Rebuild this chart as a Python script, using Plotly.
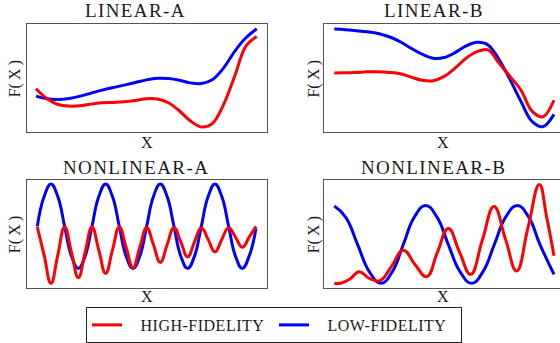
import plotly.graph_objects as go

# ---------------- data ----------------
# LINEAR-A / LINEAR-B : 21 equally spaced samples along x
lin_x = list(range(21))
lin_a_high = [0.400, 0.308, 0.255, 0.240, 0.243, 0.258, 0.271, 0.274, 0.280, 0.292, 0.308,
              0.305, 0.271, 0.194, 0.102, 0.046, 0.080, 0.255, 0.517, 0.794, 0.886]
lin_a_low = [0.332, 0.308, 0.302, 0.311, 0.332, 0.360, 0.388, 0.412, 0.434, 0.458, 0.483,
             0.498, 0.495, 0.480, 0.455, 0.449, 0.486, 0.594, 0.748, 0.871, 0.957]
lin_b_high = [0.546, 0.549, 0.552, 0.558, 0.558, 0.552, 0.540, 0.509, 0.479, 0.475, 0.515,
              0.592, 0.684, 0.745, 0.761, 0.638, 0.515, 0.387, 0.193, 0.141, 0.294]
lin_b_low = [0.954, 0.948, 0.939, 0.929, 0.914, 0.883, 0.837, 0.776, 0.721, 0.684, 0.690,
             0.736, 0.798, 0.831, 0.807, 0.672, 0.485, 0.282, 0.098, 0.049, 0.163]

# NONLINEAR-A : 33 equally spaced samples along x
nla_x = list(range(33))
nla_high = [0.563, 0.302, 0.040, 0.302, 0.563, 0.328, 0.092, 0.328, 0.563, 0.348, 0.132,
            0.348, 0.563, 0.374, 0.185, 0.374, 0.557, 0.398, 0.234, 0.398, 0.557, 0.425,
            0.286, 0.425, 0.557, 0.448, 0.332, 0.448, 0.557, 0.469, 0.375, 0.469, 0.569]
nla_low = [0.569, 0.846, 0.963, 0.846, 0.569, 0.292, 0.178, 0.292, 0.569, 0.846, 0.963,
           0.846, 0.569, 0.292, 0.178, 0.292, 0.569, 0.846, 0.963, 0.846, 0.569, 0.292,
           0.178, 0.292, 0.569, 0.846, 0.963, 0.846, 0.569, 0.292, 0.178, 0.292, 0.550]

# NONLINEAR-B : irregular samples, x on a 0-100 scale
nlb_high_x = [0, 3.34, 7.13, 11.38, 15.93, 20.79, 26.10, 31.41, 36.72, 42.03, 46.89,
              51.90, 56.90, 62.06, 67.37, 72.69, 77.85, 83.00, 88.16, 93.32, 96.66, 100]
nlb_high = [0.040, 0.043, 0.080, 0.148, 0.086, 0.065, 0.200, 0.348, 0.215, 0.102, 0.326,
            0.548, 0.335, 0.123, 0.440, 0.754, 0.455, 0.154, 0.557, 0.957, 0.655, 0.295]
nlb_low_x = [0, 5.16, 10.62, 15.93, 21.24, 26.40, 31.41, 36.42, 41.58, 46.74, 51.90,
             57.21, 62.52, 67.68, 72.84, 78.00, 83.31, 88.47, 93.63, 100]
nlb_low = [0.757, 0.655, 0.400, 0.148, 0.040, 0.148, 0.400, 0.655, 0.763, 0.655, 0.400,
           0.148, 0.040, 0.148, 0.400, 0.655, 0.763, 0.655, 0.400, 0.123]

titles = ["LINEAR-A", "LINEAR-B", "NONLINEAR-A", "NONLINEAR-B"]
series_names = ["HIGH-FIDELITY", "LOW-FIDELITY"]
colors = ["#ff0000", "#0000ff"]

panels = [
    (lin_x, lin_a_high, lin_x, lin_a_low),
    (lin_x, lin_b_high, lin_x, lin_b_low),
    (nla_x, nla_high, nla_x, nla_low),
    (nlb_high_x, nlb_high, nlb_low_x, nlb_low),
]
smooth = [1.0, 1.0, 1.3, 1.3]

# ---------------- layout geometry ----------------
W, H = 560, 343
FONT = "Liberation Serif"
TXT = "#1a1a1a"
FRAME = "#555555"

x_domains = [[26.7 / W, 266.7 / W], [324.3 / W, 1.0], [26.7 / W, 266.7 / W], [324.3 / W, 1.0]]
y_domains = [[1 - 132.7 / H, 1 - 24.3 / H], [1 - 132.7 / H, 1 - 24.3 / H],
             [1 - 289.3 / H, 1 - 181 / H], [1 - 289.3 / H, 1 - 181 / H]]
x_ranges = [[-0.84, 20.9], [-0.91, 20.55], [-1.55, 33.57], [-4.55, 102.73]]


def legend_name(s):
    return '<span style="letter-spacing:0.5px">\u00a0\u00a0\u00a0' + s + '</span>'


fig = go.Figure()
for k, (hx, hy, lx, ly) in enumerate(panels):
    ax = "" if k == 0 else str(k + 1)
    fig.add_trace(go.Scatter(x=lx, y=ly, mode="lines", name=legend_name(series_names[1]),
                             line=dict(color=colors[1], width=3, shape="spline", smoothing=smooth[k]),
                             xaxis="x" + ax, yaxis="y" + ax,
                             legendgroup="lf", showlegend=(k == 0), legendrank=2))
    fig.add_trace(go.Scatter(x=hx, y=hy, mode="lines", name=legend_name(series_names[0]),
                             line=dict(color=colors[0], width=3, shape="spline", smoothing=smooth[k]),
                             xaxis="x" + ax, yaxis="y" + ax,
                             legendgroup="hf", showlegend=(k == 0), legendrank=1))

layout = dict(
    width=W, height=H, margin=dict(l=0, r=0, t=0, b=0),
    paper_bgcolor="white", plot_bgcolor="white",
    font=dict(family=FONT, color=TXT),
    showlegend=True,
    legend=dict(orientation="h", x=86 / W, y=1 - 309 / H, xanchor="left", yanchor="top",
                bordercolor="#222222", borderwidth=1, bgcolor="white",
                font=dict(family=FONT, size=16, color=TXT),
                entrywidth=142, entrywidthmode="pixels", traceorder="normal"),
)
for k in range(4):
    ax = "" if k == 0 else str(k + 1)
    right = k in (1, 3)
    layout["xaxis" + ax] = dict(domain=x_domains[k], range=x_ranges[k], anchor="y" + ax,
                                showline=True, linecolor=FRAME, linewidth=1.2, mirror=True,
                                showticklabels=False, ticks="", showgrid=False, zeroline=False,
                                fixedrange=True)
    layout["yaxis" + ax] = dict(domain=y_domains[k], range=[0, 1], anchor="x" + ax,
                                showline=True, linecolor=FRAME, linewidth=1.2,
                                mirror=(not right),
                                showticklabels=False, ticks="", showgrid=False, zeroline=False,
                                fixedrange=True)
fig.update_layout(**layout)

ann = []
title_pos = [(135.8, 10.6), (433.7, 10.6), (136.3, 168), (433.3, 168)]
xlab_pos = [(146.7, 143.5), (443.3, 143.5), (146.7, 297.8), (443.3, 297.8)]
ylab_pos = [(15, 78.8), (314.2, 78.8), (15, 235.5), (314.2, 235.5)]
for k in range(4):
    tx, ty = title_pos[k]
    ann.append(dict(text='<span style="letter-spacing:1.4px">' + titles[k] + '</span>',
                    x=tx / W, y=1 - ty / H, xref="paper", yref="paper",
                    xanchor="center", yanchor="middle", showarrow=False,
                    font=dict(family=FONT, size=19, color=TXT)))
    lx, ly = xlab_pos[k]
    ann.append(dict(text="X", x=lx / W, y=1 - ly / H, xref="paper", yref="paper",
                    xanchor="center", yanchor="middle", showarrow=False,
                    font=dict(family=FONT, size=16, color=TXT)))
    yx, yy = ylab_pos[k]
    ann.append(dict(text="F(\u2009X\u2009)", x=yx / W, y=1 - yy / H, xref="paper", yref="paper",
                    xanchor="center", yanchor="middle", showarrow=False, textangle=-90,
                    font=dict(family=FONT, size=16, color=TXT)))
fig.update_layout(annotations=ann)

fig.write_html("out.html", config={"staticPlot": True},
               post_script="document.body.style.margin='0';document.body.style.overflow='hidden';")
